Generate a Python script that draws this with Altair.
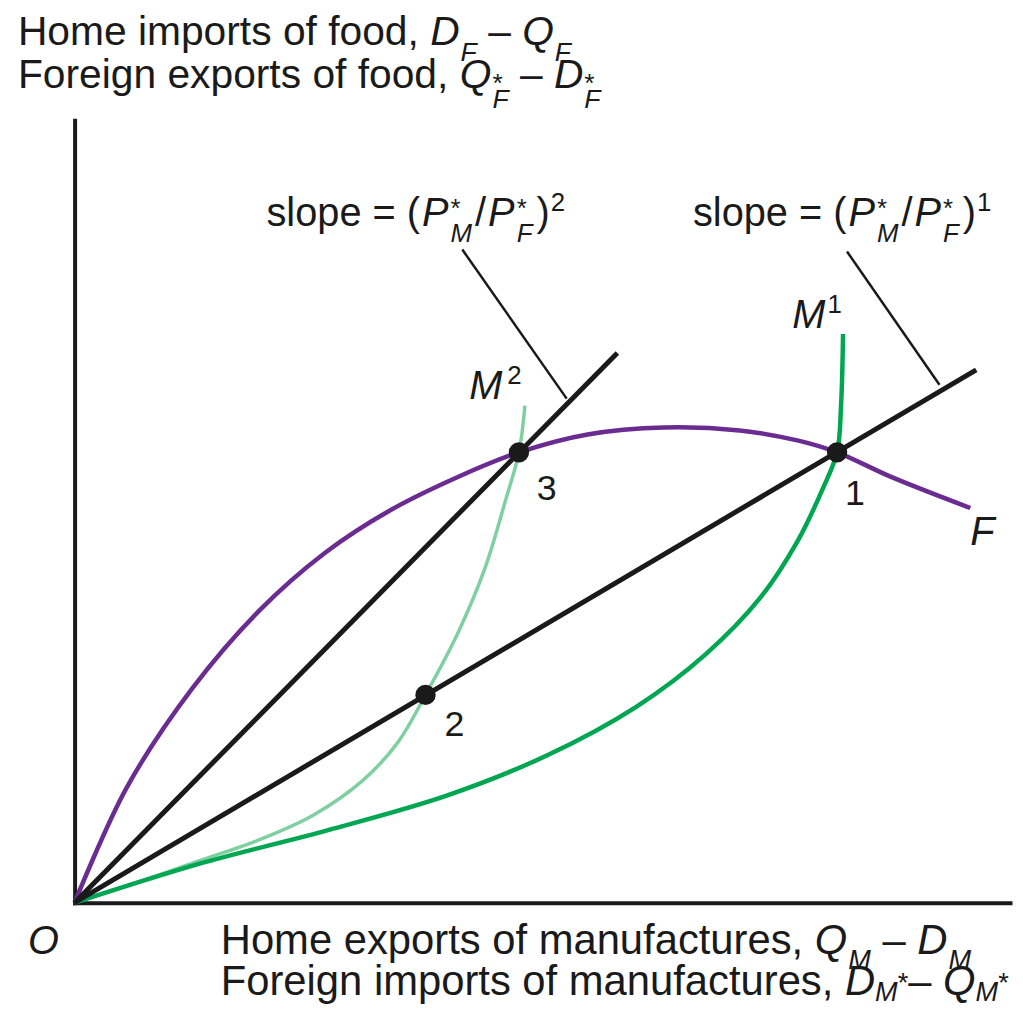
import altair as alt
import pandas as pd

# ---------------- data (arbitrary units, origin at O) ----------------
# Foreign offer curve F
f_x = [0, 52, 118, 185, 252, 318, 385, 447, 516, 593, 669, 727, 767, 822, 901]
f_y = [0, 115, 215, 293, 352, 395, 428, 453, 471, 478, 475, 465, 453, 428, 397]
# Home offer curve M1
m1_x = [0, 125, 255, 375, 475, 565, 635, 690, 728, 752, 767, 771, 773]
m1_y = [0, 39, 73, 108, 148, 197, 250, 307, 365, 415, 453, 500, 572]
# Home offer curve M2
m2_x = [0, 65, 125, 185, 240, 290, 325, 353, 385, 413, 433, 447, 453]
m2_y = [0, 21, 42, 63, 88, 123, 161, 209, 270, 337, 403, 453, 500]
# relative-price lines (rays from origin)
ray1_x = [0, 907]
ray1_y = [0, 536]
ray2_x = [0, 546]
ray2_y = [0, 553]
# equilibrium points
eq_x = [767, 353, 447]
eq_y = [453, 209, 453]
eq_lab = ["1", "2", "3"]
# leader lines for the slope labels
lead2_x = [390, 495]
lead2_y = [657, 507]
lead1_x = [777, 870]
lead1_y = [655, 521]

# ---------------- layout ----------------
PLOT_W, PLOT_H = 941, 787
X0PX, Y0PX = 75, 905  # page pixel of origin
INK = "#1a1a1a"
FONT = "Liberation Sans"

XS = alt.Scale(domain=[0, PLOT_W], nice=False, zero=False)
YS = alt.Scale(domain=[0, PLOT_H], nice=False, zero=False)
AX = alt.Axis(domain=True, domainColor=INK, domainWidth=4, domainCap="square",
              ticks=False, labels=False, grid=False, title=None)


def line_layer(xs, ys, color, width, interp="catmull-rom"):
    df = pd.DataFrame({"x": xs, "y": ys, "o": list(range(len(xs)))})
    return alt.Chart(df).mark_line(color=color, strokeWidth=width, interpolate=interp,
                                   strokeCap="butt").encode(
        x=alt.X("x:Q", scale=XS, axis=AX),
        y=alt.Y("y:Q", scale=YS, axis=AX),
        order="o:Q",
    )


# Arial / Liberation Sans advance widths (per 1000 em)
W = {' ': 278, ',': 278, '(': 333, ')': 333, '=': 584, '/': 278, '*': 389, '–': 556,
     '0': 556, '1': 556, '2': 556, '3': 556,
     'A': 667, 'D': 722, 'F': 611, 'H': 722, 'M': 833, 'O': 778, 'P': 667, 'Q': 778,
     'a': 556, 'b': 556, 'c': 500, 'd': 556, 'e': 556, 'f': 278, 'g': 556, 'h': 556,
     'i': 222, 'l': 222, 'm': 833, 'n': 556, 'o': 556, 'p': 556, 'r': 333, 's': 500,
     't': 278, 'u': 556, 'x': 500}


def tw(s, size):
    return sum(W.get(c, 556) for c in s) / 1000.0 * size


def rich(runs, X, base, size, sub=0.38, sup=0.38, st_sup=-0.22, st_sub=0.42, ratio=0.65):
    out = []
    x = X
    for r in runs:
        k = r[0]
        if k in ("r", "i"):
            s = r[1]
            core = s.strip(" ")
            lead = len(s) - len(s.lstrip(" "))
            trail = len(s) - len(s.rstrip(" "))
            x += tw(" " * lead, size)
            out.append((core, x, base, size, k == "i"))
            x += tw(core, size) + tw(" " * trail, size)
        elif k == "gap":
            x += r[1]
        elif k == "sub":
            s2 = size * ratio
            out.append((r[1], x, base + sub * size, s2, True))
            x += tw(r[1], s2)
        elif k == "sup":
            s2 = size * ratio
            out.append((r[1], x, base - sup * size, s2, False))
            x += tw(r[1], s2)
        elif k == "raw":  # (text, shift in em, italic)
            s2 = size * ratio
            out.append((r[1], x, base + r[2] * size, s2, r[3]))
            x += tw(r[1], s2)
        elif k == "st":
            s2 = size * ratio
            out.append((r[1], x, base + st_sup * size, s2, False))
            out.append((r[2], x, base + st_sub * size, s2, True))
            x += max(tw(r[1], s2), tw(r[2], s2))
    return out


SLOPE = lambda n: [("r", "slope = ("), ("gap", 2), ("i", "P"), ("gap", 2), ("st", "*", "M"),
                   ("gap", 3), ("r", "/"), ("gap", 2), ("i", "P"), ("gap", 2), ("st", "*", "F"),
                   ("gap", 4), ("r", ")"), ("gap", 1), ("sup", n)]

texts = []
texts += rich([("r", "Home imports of food, "), ("i", "D"), ("gap", 1), ("sub", "F"), ("r", " – "),
               ("i", "Q"), ("gap", 1), ("sub", "F")], 18, 42, 41, sub=0.4)
texts += rich([("r", "Foreign exports of food, "), ("i", "Q"), ("gap", 1), ("st", "*", "F"),
               ("r", " – "), ("i", "D"), ("gap", 1), ("st", "*", "F")], 18, 85, 41,
              st_sup=0.12, st_sub=0.5)
texts += rich(SLOPE("2"), 268, 224, 40)
texts += rich(SLOPE("1"), 697, 224, 40)
texts += rich([("i", "M"), ("gap", 2), ("sup", "1")], 797, 327, 40)
texts += rich([("i", "M"), ("gap", 5), ("sup", "2")], 472, 398, 40)
texts += rich([("r", "3")], 540, 500, 36)
texts += rich([("r", "1")], 850, 505, 36)
texts += rich([("r", "2")], 447, 737, 36)
texts += rich([("i", "F")], 976, 545, 40)
texts += rich([("i", "O")], 28, 957, 40)
texts += rich([("r", "Home exports of manufactures, "), ("i", "Q"), ("gap", 1), ("sub", "M"),
               ("r", " – "), ("i", "D"), ("gap", 1), ("sub", "M")], 222, 957, 42, sub=0.34)
texts += rich([("r", "Foreign imports of manufactures, "), ("i", "D"), ("raw", "M", 0.14, True),
               ("raw", "*", -0.08, False), ("r", "– "), ("i", "Q"), ("raw", "M", 0.14, True),
               ("raw", "*", -0.08, False)], 222, 998, 42)

tdf = pd.DataFrame([{"t": t, "x": x - X0PX, "y": Y0PX - y, "s": s, "it": it}
                    for (t, x, y, s, it) in texts])


def text_layer(df, italic):
    return alt.Chart(df).mark_text(align="left", baseline="alphabetic", font=FONT, color=INK,
                                   fontStyle="italic" if italic else "normal").encode(
        x=alt.X("x:Q", scale=XS, axis=AX),
        y=alt.Y("y:Q", scale=YS, axis=AX),
        text="t:N",
        size=alt.Size("s:Q", scale=None, legend=None),
    )


eq_df = pd.DataFrame({"x": eq_x, "y": eq_y, "lab": eq_lab})
points = alt.Chart(eq_df).mark_circle(size=420, color=INK, opacity=1).encode(
    x=alt.X("x:Q", scale=XS, axis=AX),
    y=alt.Y("y:Q", scale=YS, axis=AX),
)

chart = alt.layer(
    line_layer(m2_x, m2_y, "#7fd0a0", 3.5),
    line_layer(m1_x, m1_y, "#00a651", 4.5),
    line_layer(f_x, f_y, "#6a2c91", 4.5),
    line_layer(ray1_x, ray1_y, INK, 5, "linear"),
    line_layer(ray2_x, ray2_y, INK, 5, "linear"),
    line_layer(lead2_x, lead2_y, INK, 2.5, "linear"),
    line_layer(lead1_x, lead1_y, INK, 2.5, "linear"),
    points,
    text_layer(tdf[~tdf["it"]], False),
    text_layer(tdf[tdf["it"]], True),
).properties(
    width=PLOT_W,
    height=PLOT_H,
    background="white",
    autosize=alt.AutoSizeParams(type="none"),
    padding={"left": 67, "top": 110, "right": 5, "bottom": 103},
).configure_view(stroke=None)

chart.save("out.html", embed_options={"renderer": "svg", "actions": False})
